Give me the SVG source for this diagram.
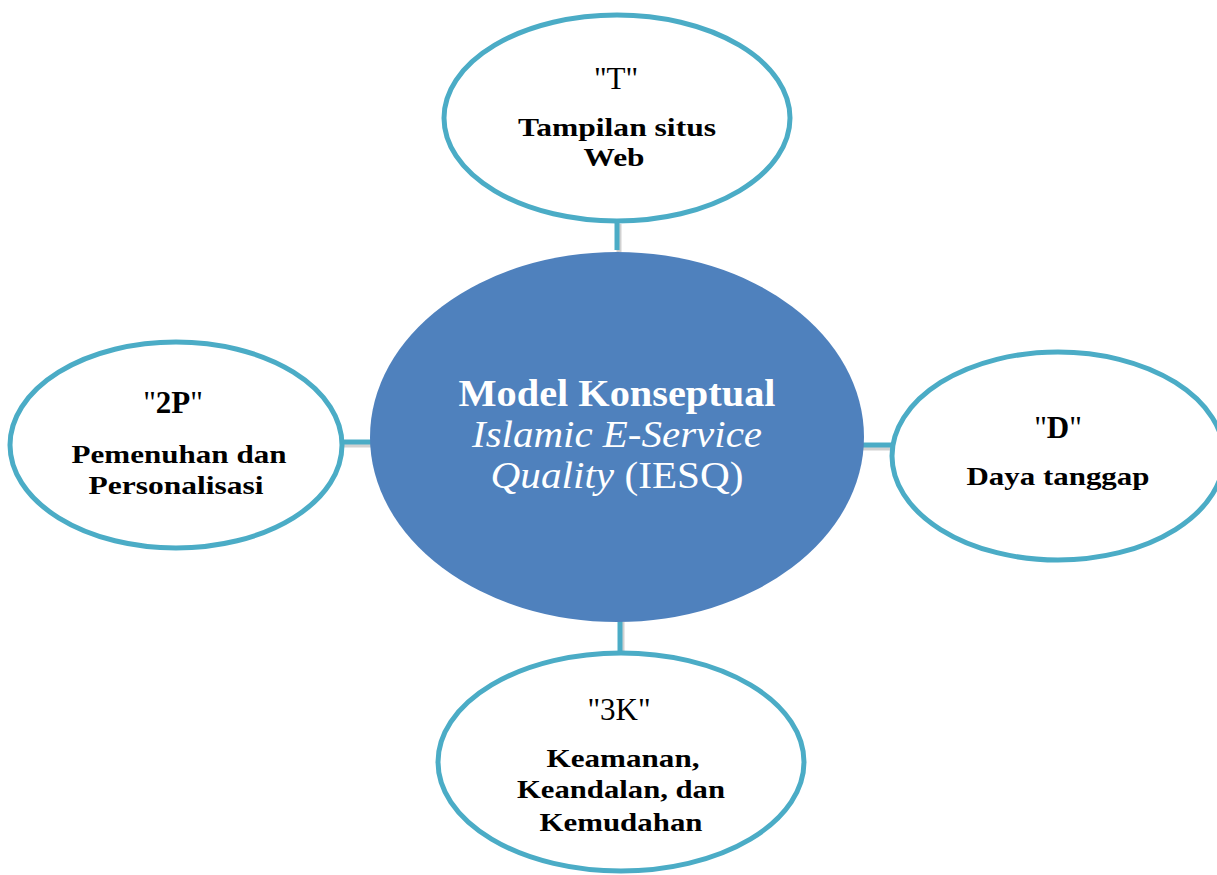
<svg xmlns="http://www.w3.org/2000/svg" width="1217" height="875" viewBox="0 0 1217 875">
<style>
.bg{fill:#ffffff}
.sat{fill:#ffffff;stroke:#4BACC6;stroke-width:5}
.hub{fill:#4F81BD}
.con{stroke:#4BACC6;stroke-width:5;fill:none}
.sh{stroke:#9a9a9a;stroke-width:5;fill:none;opacity:0.45}
.t{font-family:"Liberation Serif","Times New Roman",serif;fill:#000;text-anchor:middle}
.q{font-size:31px}
.b{font-size:26px;font-weight:bold}
.c{font-family:"Liberation Serif","Times New Roman",serif;fill:#fff;text-anchor:middle;font-size:37px}
</style>
<rect class="bg" x="0" y="0" width="1217" height="875"/>
<g id="connectors">
<line class="sh" x1="619" y1="224" x2="619" y2="252"/>
<line class="con" x1="617" y1="222" x2="617" y2="250"/>
<line class="sh" x1="342" y1="445" x2="372" y2="445"/>
<line class="con" x1="341" y1="442" x2="372" y2="442"/>
<line class="sh" x1="862" y1="448" x2="892" y2="448"/>
<line class="con" x1="861" y1="445" x2="893" y2="445"/>
<line class="sh" x1="622" y1="622" x2="622" y2="655"/>
<line class="con" x1="620" y1="620" x2="620" y2="654"/>
</g>
<g id="hub">
<ellipse class="hub" cx="617" cy="437" rx="247" ry="185"/>
<text class="c" x="617" y="406" font-weight="bold" textLength="317" lengthAdjust="spacingAndGlyphs">Model Konseptual</text>
<text class="c" x="617" y="447" font-style="italic" textLength="290" lengthAdjust="spacingAndGlyphs">Islamic E-Service</text>
<text class="c" x="617" y="488" textLength="253" lengthAdjust="spacingAndGlyphs"><tspan font-style="italic">Quality</tspan> (IESQ)</text>
</g>
<g id="node-T">
<ellipse class="sat" cx="617" cy="118" rx="173" ry="103"/>
<text class="t q" x="616" y="89">"T"</text>
<text class="t b" x="617" y="136" textLength="198" lengthAdjust="spacingAndGlyphs">Tampilan situs</text>
<text class="t b" x="614" y="166" textLength="61" lengthAdjust="spacingAndGlyphs">Web</text>
</g>
<g id="node-2P">
<ellipse class="sat" cx="176" cy="445" rx="166" ry="103"/>
<text class="t q" x="173" y="413">"<tspan font-weight="bold">2P</tspan>"</text>
<text class="t b" x="179" y="463" textLength="215" lengthAdjust="spacingAndGlyphs">Pemenuhan dan</text>
<text class="t b" x="176" y="494" textLength="175" lengthAdjust="spacingAndGlyphs">Personalisasi</text>
</g>
<g id="node-D">
<ellipse class="sat" cx="1058" cy="456" rx="166" ry="104"/>
<text class="t q" x="1058" y="438">"<tspan font-weight="bold">D</tspan>"</text>
<text class="t b" x="1058" y="485" textLength="183" lengthAdjust="spacingAndGlyphs">Daya tanggap</text>
</g>
<g id="node-3K">
<ellipse class="sat" cx="621" cy="762" rx="183" ry="109"/>
<text class="t q" x="619" y="720">"3K"</text>
<text class="t b" x="623" y="767" textLength="153" lengthAdjust="spacingAndGlyphs">Keamanan,</text>
<text class="t b" x="621" y="798" textLength="208" lengthAdjust="spacingAndGlyphs">Keandalan, dan</text>
<text class="t b" x="621" y="831" textLength="163" lengthAdjust="spacingAndGlyphs">Kemudahan</text>
</g>
</svg>
